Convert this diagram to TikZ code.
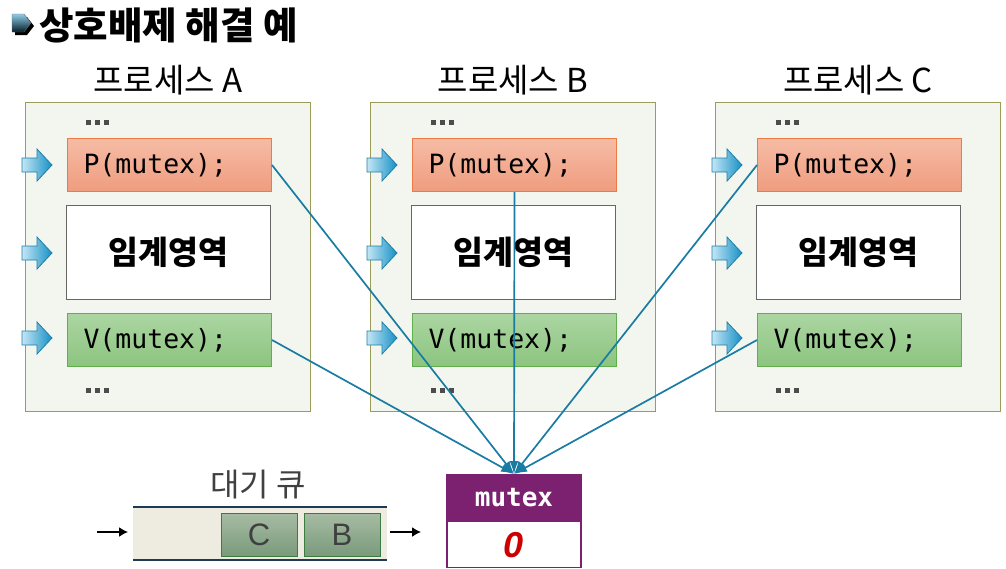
\documentclass[tikz,border=0pt]{standalone}
\usepackage{fontspec}
\setmainfont{Liberation Sans}
\newfontfamily\kr{Noto Sans CJK KR}
\newfontfamily\mono{DejaVu Sans Mono}
\usetikzlibrary{arrows.meta}
\definecolor{panelfill}{HTML}{F3F6EE}
\definecolor{paneldraw}{HTML}{9C9C5A}
\definecolor{ptop}{HTML}{F6BCA6}
\definecolor{pbot}{HTML}{EF9C7E}
\definecolor{pdraw}{HTML}{EE7A45}
\definecolor{vtop}{HTML}{ABD6A2}
\definecolor{vbot}{HTML}{8CC47F}
\definecolor{vdraw}{HTML}{62AD4C}
\definecolor{linkc}{HTML}{1A7BA3}
\definecolor{arrl}{HTML}{C4E6F6}
\definecolor{arrr}{HTML}{1590C4}
\definecolor{arrd}{HTML}{1F7FAA}
\definecolor{mutexc}{HTML}{7B216F}
\definecolor{qfill}{HTML}{EEECE1}
\definecolor{qline}{HTML}{1F3A55}
\definecolor{qtop}{HTML}{A6BCA4}
\definecolor{qbot}{HTML}{7A9A7B}
\definecolor{qdraw}{HTML}{3B7D3E}
\definecolor{txtgray}{HTML}{404040}
\begin{document}
\begin{tikzpicture}[x=1pt,y=-1pt,
  panel/.style={draw=paneldraw,fill=panelfill,line width=1.2pt},
  ptitle/.style={font=\kr\fontsize{33}{34}\selectfont,inner sep=0pt},
  pbox/.style={draw=pdraw,top color=ptop,bottom color=pbot,line width=1pt,
     minimum height=53pt,text width=172pt,inner xsep=16pt,inner ysep=0pt,align=left,
     font=\mono\fontsize{26.5}{28}\selectfont},
  vbox/.style={pbox,draw=vdraw,top color=vtop,bottom color=vbot},
  cbox/.style={draw=black!60,fill=white,line width=1.2pt,minimum width=204pt,minimum height=94pt,
     inner sep=0pt,font=\kr\bfseries\fontsize{32.5}{34}\selectfont},
  link/.style={draw=linkc,line width=1.7pt,-{Latex[length=13pt,width=9pt]}},
  qbox/.style={draw=qdraw,line width=1pt,top color=qtop,bottom color=qbot,minimum width=76pt,
     minimum height=43pt,inner sep=0pt,text=txtgray,font=\fontsize{31}{32}\selectfont},
  qarrow/.style={draw=black,line width=1.5pt,-{Latex[length=9pt,width=10pt]}},
  dotsq/.style={fill=black!70}
]
\useasboundingbox (0,0) rectangle (1006,568);
% title
\fill[black] (15,17)--(27,17)--(34,26)--(27,35)--(15,35)--cycle;
\shade[top color=arrl!70!arrr,bottom color=black!80!arrr,draw=black!60] (12,14)--(24,14)--(31,23)--(24,32)--(12,32)--cycle;
\node[anchor=west,inner sep=0pt,font=\kr\bfseries\fontsize{37.5}{40}\selectfont] (title) at (39,25) {상호배제 해결 예};
% panels
\foreach \n/\L [count=\i from 0] in {A/A,B/B,C/C}{
  \begin{scope}[xshift=\i*345]
  \node[panel,minimum width=285pt,minimum height=309pt,anchor=north west,inner sep=0pt] (panel\n) at (25,102) {};
  \node[ptitle] (title\n) at (168,80) {프로세스 \L};
  \foreach \dx in {86,95,104}{
    \fill[dotsq] (\dx,120) rectangle ++(5,5);
    \fill[dotsq] (\dx,388) rectangle ++(5,5);
  }
  \node[pbox,anchor=north west] (p\n) at (67,138) {P(mutex);};
  \node[cbox,anchor=north west] (c\n) at (66,205) {임계영역};
  \node[vbox,anchor=north west] (v\n) at (67,313) {V(mutex);};
  \foreach \yy in {165,253,338}{
    \shade[left color=arrl,right color=arrr,draw=arrd,line width=0.8pt]
      (22,\yy-7)--(37,\yy-7)--(37,\yy-16)--(52,\yy)--(37,\yy+16)--(37,\yy+7)--(22,\yy+7)--cycle;
  }
  \end{scope}
}
% mutex
\node[draw=mutexc,fill=mutexc,line width=1.2pt,minimum width=134pt,minimum height=46pt,anchor=north,inner sep=0pt,
  text=white,font=\mono\bfseries\fontsize{26}{27}\selectfont] (mutexhead) at (514,474) {mutex};
\node[draw=mutexc,fill=white,line width=1.2pt,minimum width=134pt,minimum height=46pt,anchor=north,inner sep=0pt,
  text=red!80!black,font=\bfseries\itshape\fontsize{36}{36}\selectfont] (mutexval) at (mutexhead.south) {0};
% queue
\fill[qfill] (133,507) rectangle (387,560);
\draw[qline,line width=1.5pt] (133,507) -- (387,507);
\draw[qline,line width=1.5pt] (133,560) -- (387,560);
\node[inner sep=0pt,text=txtgray,font=\kr\fontsize{32}{34}\selectfont] (qlabel) at (258,485) {대기 큐};
\node[qbox] (qC) at (259,534.5) {C};
\node[qbox] (qB) at (342,534.5) {B};
\coordinate (qin1) at (97,532);
\coordinate (qin2) at (128,532);
\coordinate (qout1) at (390,532);
\coordinate (qout2) at (421,532);
\draw[qarrow] (qin1) -- (qin2);
\draw[qarrow] (qout1) -- (qout2);
% links
\draw[link] (pA.east) -- (mutexhead.north);
\draw[link] (vA.east) -- (mutexhead.north);
\draw[link] (pB.south) -- (mutexhead.north);
\draw[link] (pC.west) -- (mutexhead.north);
\draw[link] (vC.west) -- (mutexhead.north);
\end{tikzpicture}
\end{document}
